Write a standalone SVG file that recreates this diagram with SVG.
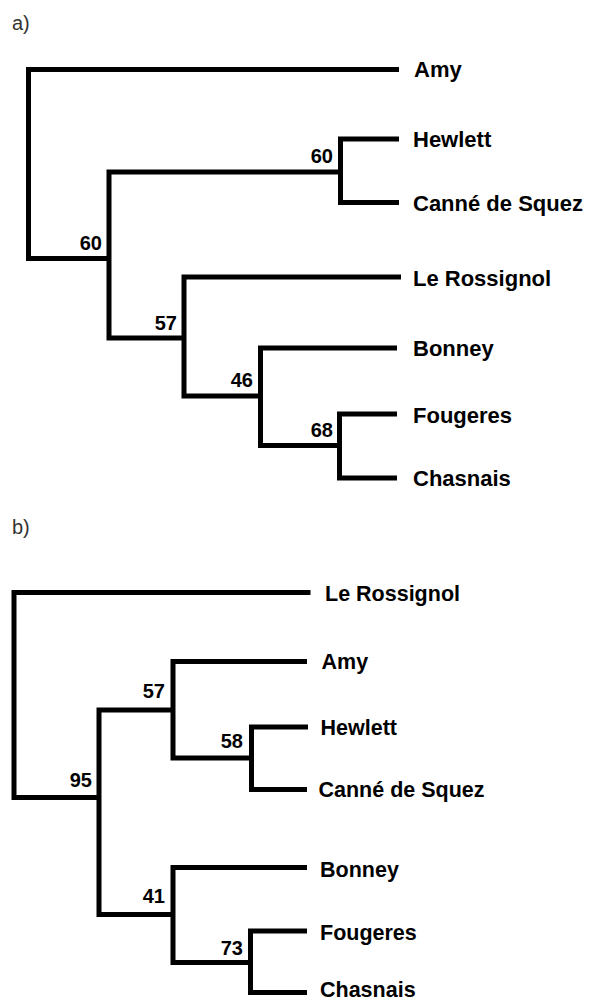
<svg xmlns="http://www.w3.org/2000/svg" width="602" height="1002" viewBox="0 0 602 1002">
  <style>
    .br { fill: none; stroke: #000; stroke-width: 5; stroke-linejoin: miter; stroke-linecap: butt; }
    .panel { font-family: "Liberation Sans", Arial, sans-serif; font-size: 20px; fill: #333; }
    .taxa { font-family: "Liberation Sans", Arial, sans-serif; font-weight: bold; font-size: 22px; fill: #000; }
    .taxb { font-family: "Liberation Sans", Arial, sans-serif; font-weight: bold; font-size: 21.5px; fill: #000; }
    .sup { font-family: "Liberation Sans", Arial, sans-serif; font-weight: bold; font-size: 20px; fill: #000; text-anchor: end; }
  </style>
  <rect width="602" height="1002" fill="#fff"/>
  <text class="panel" x="12" y="30">a)</text>
  <text class="panel" x="12" y="534">b)</text>

  <g id="connectors">
    <!-- panel a -->
    <path class="br" d="M399,69.5 H28.5 V258.5 H109"/>
    <path class="br" d="M340.5,172 H109 V338 H184"/>
    <path class="br" d="M399,139 H340.5 V202.5 H399"/>
    <path class="br" d="M401,277 H184 V396 H260.5"/>
    <path class="br" d="M397,348 H260.5 V445.5 H339.5"/>
    <path class="br" d="M397,414 H339.5 V478 H397"/>
    <!-- panel b -->
    <path class="br" d="M310.5,592.5 H14 V797.5 H99"/>
    <path class="br" d="M173,710 H99 V914.5 H173"/>
    <path class="br" d="M307,661.5 H173 V758 H251.5"/>
    <path class="br" d="M308,727 H251.5 V789.5 H307"/>
    <path class="br" d="M307,867.5 H173 V962.5 H250.5"/>
    <path class="br" d="M307,931 H250.5 V992.5 H307"/>
  </g>

  <!-- panel a nodes -->
  <g id="a-amy"><text class="taxa" x="414" y="77">Amy</text></g>
  <g id="a-hewlett"><text class="taxa" x="413" y="147">Hewlett</text></g>
  <g id="a-canne"><text class="taxa" x="413" y="211">Canné de Squez</text></g>
  <g id="a-rossignol"><text class="taxa" x="413" y="285.5">Le Rossignol</text></g>
  <g id="a-bonney"><text class="taxa" x="413" y="356">Bonney</text></g>
  <g id="a-fougeres"><text class="taxa" x="413" y="422.5">Fougeres</text></g>
  <g id="a-chasnais"><text class="taxa" x="413" y="486">Chasnais</text></g>
  <g id="a-n60a"><text class="sup" x="102" y="250">60</text></g>
  <g id="a-n60b"><text class="sup" x="333" y="163">60</text></g>
  <g id="a-n57"><text class="sup" x="177" y="330">57</text></g>
  <g id="a-n46"><text class="sup" x="253" y="387">46</text></g>
  <g id="a-n68"><text class="sup" x="333" y="437">68</text></g>

  <!-- panel b nodes -->
  <g id="b-rossignol"><text class="taxb" x="325" y="601">Le Rossignol</text></g>
  <g id="b-amy"><text class="taxb" x="321.5" y="669">Amy</text></g>
  <g id="b-hewlett"><text class="taxb" x="320.5" y="735">Hewlett</text></g>
  <g id="b-canne"><text class="taxb" x="318.5" y="797">Canné de Squez</text></g>
  <g id="b-bonney"><text class="taxb" x="320" y="876.5">Bonney</text></g>
  <g id="b-fougeres"><text class="taxb" x="320" y="940">Fougeres</text></g>
  <g id="b-chasnais"><text class="taxb" x="320" y="997">Chasnais</text></g>
  <g id="b-n95"><text class="sup" x="92" y="787">95</text></g>
  <g id="b-n57"><text class="sup" x="165" y="698">57</text></g>
  <g id="b-n58"><text class="sup" x="243" y="748">58</text></g>
  <g id="b-n41"><text class="sup" x="165" y="903">41</text></g>
  <g id="b-n73"><text class="sup" x="243" y="955">73</text></g>
</svg>
